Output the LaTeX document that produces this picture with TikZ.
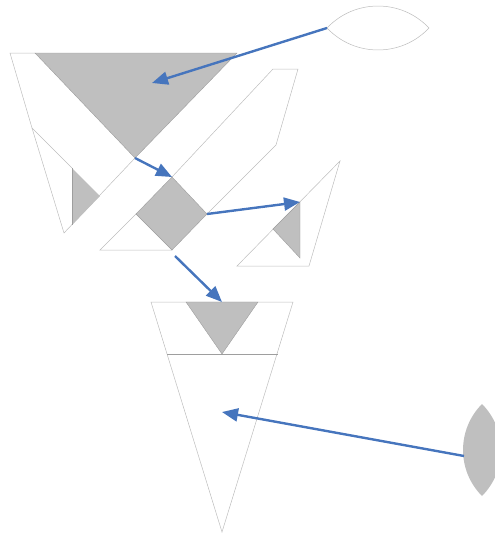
\documentclass[tikz,border=0pt]{standalone}
\usetikzlibrary{arrows.meta}
\definecolor{fillgray}{HTML}{BFBFBF}
\definecolor{edgegray}{HTML}{BDBDBD}
\definecolor{darkedge}{HTML}{9E9E9E}
\definecolor{arrowblue}{HTML}{4675BD}
\tikzset{
  outline/.style={draw=edgegray, line width=0.5pt, line join=miter},
  grayfill/.style={fill=fillgray, draw=darkedge, line width=0.4pt},
  flowarrow/.style={draw=arrowblue, line width=2.4pt, -{Triangle[length=16pt,width=13pt]}}
}
\begin{document}
\begin{tikzpicture}[x=1pt,y=-1pt]
\useasboundingbox (0,0) rectangle (495,533);
\clip (0,0) rectangle (495,533);

% ---------- shape A (top left) ----------
\fill[grayfill] (35,53) -- (237,53) -- (135,158) -- cycle;
\draw[outline] (35,53) -- (10,53) -- (32,128) -- (64,233) -- (135,158);
\draw[outline] (32,128) -- (72,168);
\fill[grayfill, draw=none] (72,168) -- (100,196) -- (72,225) -- cycle;
\draw[darkedge, line width=0.5pt] (72,168) -- (72,225);
\coordinate (aApex) at (135,158);
\coordinate (aCenter) at (152,83);

% ---------- shape B (sword) ----------
\draw[outline] (136,214) -- (100,250) -- (172,250);
\draw[outline] (172,177) -- (273,69) -- (298,69) -- (276,145) -- (207,214);
\fill[grayfill] (136,214) -- (172,177) -- (207,214) -- (172,250) -- cycle;
\coordinate (dTop) at (172,177);
\coordinate (dRight) at (207,214);
\coordinate (dBottom) at (175,256);

% ---------- shape C (small right) ----------
\draw[outline] (237,266) -- (340,161) -- (309,266) -- cycle;
\fill[grayfill] (273,229) -- (300,202) -- (300,258) -- cycle;
\coordinate (cTip) at (300,202);

% ---------- top lens ----------
\draw[outline, fill=white] (327,28) .. controls (354.6,-1.3) and (401.4,-1.3) .. (429,28)
  .. controls (401.4,57.3) and (354.6,57.3) .. (327,28) -- cycle;
\coordinate (lensTop) at (327,28);

% ---------- bottom lens ----------
\fill[fillgray] (482,404) .. controls (456.7,429.4) and (456.7,470.6) .. (482,496)
  .. controls (507.3,470.6) and (507.3,429.4) .. (482,404) -- cycle;
\coordinate (lensBottom) at (464,456);

% ---------- shape D (cone) ----------
\draw[outline] (151,302) -- (293,302) -- (222,532) -- cycle;
\draw[darkedge, line width=0.5pt] (167,354) -- (278,354);
\fill[grayfill] (186,302) -- (258,302) -- (222,354) -- cycle;
\coordinate (coneTop) at (222,302);
\coordinate (coneMid) at (222,412);

% ---------- arrows ----------
\draw[flowarrow] (lensTop) -- (aCenter);
\draw[flowarrow] (aApex) -- (dTop);
\draw[flowarrow] (dRight) -- (cTip);
\draw[flowarrow] (dBottom) -- (coneTop);
\draw[flowarrow] (lensBottom) -- (coneMid);
\end{tikzpicture}
\end{document}
